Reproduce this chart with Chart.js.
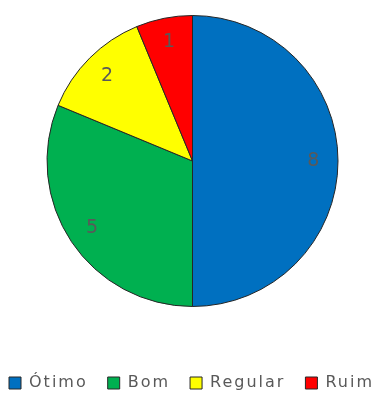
<!DOCTYPE html>
<html>
<head>
<meta charset="utf-8">
<script src="https://cdn.jsdelivr.net/npm/chart.js@4/dist/chart.umd.min.js"></script>
<style>
  html, body { margin: 0; padding: 0; background: #fff; }
  #wrap { width: 385px; height: 394px; }
</style>
</head>
<body>
<div id="wrap"><canvas id="pie" width="385" height="394"></canvas></div>
<script>
const labels = ['Ótimo', 'Bom', 'Regular', 'Ruim'];
const values = [8, 5, 2, 1];
const colors = ['#0070C0', '#00B050', '#FFFF00', '#FF0000'];

// legend text in the reference is spaced out a bit
const letterSpacing = {
  id: 'letterSpacing',
  beforeUpdate(chart) { chart.ctx.letterSpacing = '2px'; },
  beforeDraw(chart) { chart.ctx.letterSpacing = '2px'; }
};

// value labels inside each slice
const sliceLabels = {
  id: 'sliceLabels',
  afterDatasetsDraw(chart) {
    const { ctx } = chart;
    const meta = chart.getDatasetMeta(0);
    ctx.save();
    ctx.letterSpacing = '0px';
    ctx.font = '19px "DejaVu Sans"';
    ctx.fillStyle = '#595959';
    ctx.textAlign = 'center';
    ctx.textBaseline = 'middle';
    meta.data.forEach((arc, i) => {
      const p = arc.getProps(['x', 'y', 'startAngle', 'endAngle', 'outerRadius'], true);
      const mid = (p.startAngle + p.endAngle) / 2;
      const d = p.outerRadius * 0.83;
      ctx.fillText(String(values[i]), p.x + Math.cos(mid) * d, p.y + Math.sin(mid) * d);
    });
    ctx.restore();
  }
};

new Chart(document.getElementById('pie'), {
  type: 'pie',
  data: {
    labels,
    datasets: [{
      data: values,
      backgroundColor: colors,
      borderColor: '#262626',
      borderWidth: 1
    }]
  },
  options: {
    responsive: false,
    animation: false,
    // negative side padding gives the legend room to stay on one row
    layout: { padding: { top: 15, bottom: -7, left: -13, right: -11 } },
    plugins: {
      tooltip: { enabled: false },
      legend: {
        position: 'bottom',
        title: {
          display: true,
          text: ' ',
          font: { size: 10, lineHeight: 1 },
          padding: { top: 38, bottom: 0 }
        },
        labels: {
          boxWidth: 12,
          boxHeight: 12,
          padding: 20,
          color: '#595959',
          font: { size: 16, family: '"DejaVu Sans"' }
        }
      }
    }
  },
  plugins: [letterSpacing, sliceLabels]
});
</script>
</body>
</html>
